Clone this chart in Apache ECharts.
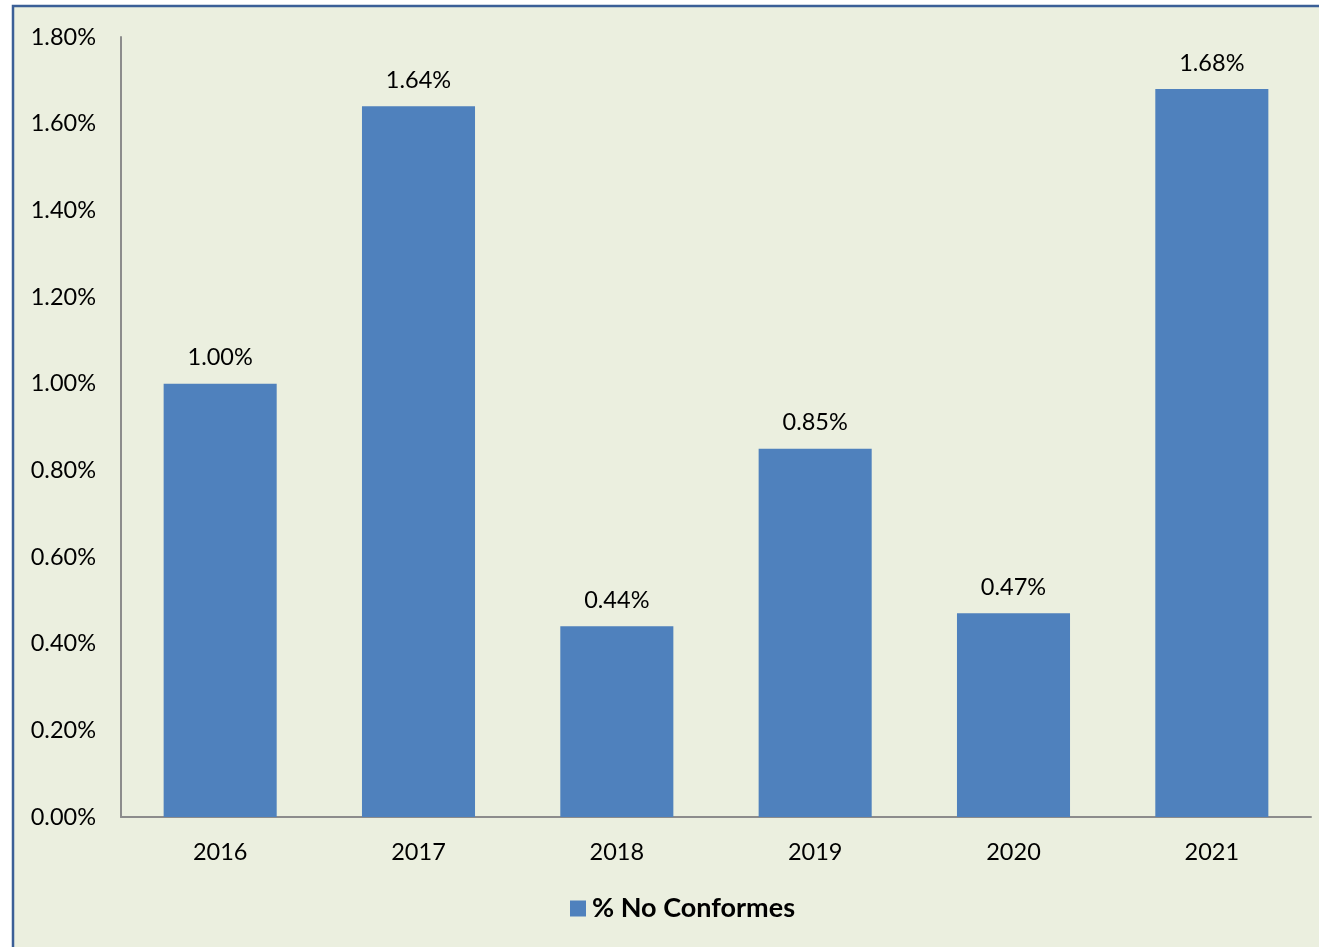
<!DOCTYPE html>
<html>
<head>
<meta charset="utf-8">
<style>
  html, body { margin: 0; padding: 0; background: #ffffff; }
  #chart { width: 1319px; height: 947px; }
</style>
<script src="https://cdn.jsdelivr.net/npm/echarts@6/dist/echarts.min.js"></script>
</head>
<body>
<div id="chart"></div>
<script>
const categories = ['2016', '2017', '2018', '2019', '2020', '2021'];
const noConformes = [1.00, 1.64, 0.44, 0.85, 0.47, 1.68];
const seriesName = '% No Conformes';

const FONT = 'Lato, "Open Sans", sans-serif';
const chart = echarts.init(document.getElementById('chart'), null, { renderer: 'canvas' });

chart.setOption({
  backgroundColor: '#ffffff',
  animation: false,
  textStyle: { fontFamily: FONT },
  graphic: [
    {
      type: 'rect',
      z: -10,
      shape: { x: 13, y: 6, width: 1310, height: 950 },
      style: { fill: '#EBEFDF', stroke: '#3B5F97', lineWidth: 2.5 }
    }
  ],
  grid: { left: 121, right: 8, top: 37, bottom: 130, containLabel: false },
  legend: {
    data: [{ name: seriesName, icon: 'rect' }],
    left: 570,
    top: 895,
    padding: 0,
    itemWidth: 16,
    itemHeight: 16,
    itemGap: 6,
    textStyle: { fontSize: 27, fontWeight: 'bold', color: '#000', fontFamily: FONT, padding: [0, 0, 0, 1] }
  },
  xAxis: {
    type: 'category',
    data: categories,
    axisLine: { lineStyle: { color: '#8C8C8C', width: 2 } },
    axisTick: { show: false },
    axisLabel: { fontSize: 23.5, color: '#000', margin: 23, fontFamily: FONT }
  },
  yAxis: {
    type: 'value',
    min: 0,
    max: 1.8,
    interval: 0.2,
    axisLine: { show: true, lineStyle: { color: '#8C8C8C', width: 2 } },
    axisTick: { show: false },
    splitLine: { show: false },
    axisLabel: {
      fontSize: 23.5, color: '#000', margin: 25, fontFamily: FONT,
      formatter: v => v.toFixed(2) + '%'
    }
  },
  series: [
    {
      name: seriesName,
      type: 'bar',
      data: noConformes,
      barWidth: '57%',
      itemStyle: { color: '#4F81BD' },
      label: {
        show: true,
        position: 'top',
        distance: 14,
        fontSize: 23.5,
        color: '#000',
        fontFamily: FONT,
        formatter: p => p.value.toFixed(2) + '%'
      }
    }
  ]
});
</script>
</body>
</html>
